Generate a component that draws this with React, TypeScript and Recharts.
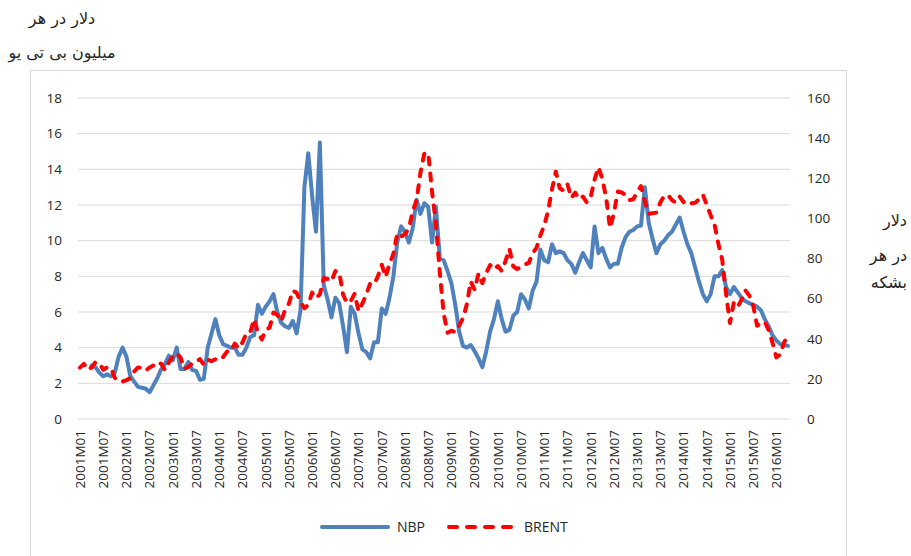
import React from 'react';
import { LineChart, Line, XAxis, YAxis, CartesianGrid } from 'recharts';

const YEARS = [2001, 2002, 2003, 2004, 2005, 2006, 2007, 2008, 2009, 2010, 2011, 2012, 2013, 2014, 2015, 2016];
const MONTHS_IN_LAST_YEAR = 4;

const MONTHS: string[] = [];
for (const y of YEARS) {
  for (let m = 1; m <= 12; m++) {
    if (y === 2016 && m > MONTHS_IN_LAST_YEAR) break;
    MONTHS.push(`${y}M${m < 10 ? '0' + m : m}`);
  }
}

// NBP, dollars per million BTU (left axis)
const NBP: (number | null)[] = [
  null, null, null, 3.0, 2.9, 2.6, 2.4, 2.5, 2.4, 2.6, 3.5, 4.0,
  3.5, 2.4, 2.1, 1.8, 1.75, 1.7, 1.5, 1.9, 2.3, 2.8, 3.1, 3.55,
  3.3, 4.0, 2.8, 2.8, 3.2, 2.75, 2.7, 2.2, 2.25, 4.0, 4.8, 5.6,
  4.7, 4.2, 4.1, 4.0, 4.0, 3.6, 3.6, 4.0, 4.6, 4.7, 6.4, 5.9,
  6.3, 6.6, 7.0, 6.0, 5.4, 5.2, 5.1, 5.5, 4.8, 6.1, 13.0, 14.9,
  12.5, 10.5, 15.5, 7.5, 6.7, 5.7, 6.8, 6.5, 5.2, 3.75, 6.3, 5.9,
  4.8, 3.9, 3.75, 3.4, 4.3, 4.3, 6.2, 5.9, 6.8, 8.0, 9.9, 10.8,
  10.5, 9.9, 10.7, 12.3, 11.5, 12.1, 11.9, 9.9, 11.9, 9.0, 8.9, 8.3,
  7.6, 6.4, 4.9, 4.1, 4.0, 4.15, 3.8, 3.4, 2.9, 3.8, 4.9, 5.6,
  6.6, 5.6, 4.9, 5.0, 5.8, 6.0, 7.0, 6.7, 6.2, 7.2, 7.7, 9.5,
  8.9, 8.8, 9.8, 9.3, 9.4, 9.3, 8.9, 8.7, 8.2, 8.8, 9.3, 8.9,
  8.5, 10.8, 9.3, 9.6, 9.0, 8.5, 8.7, 8.7, 9.6, 10.2, 10.5, 10.6,
  10.8, 10.85, 13.0, 11.0, 10.1, 9.3, 9.8, 10.0, 10.3, 10.5, 10.9, 11.3,
  10.5, 9.8, 9.3, 8.5, 7.7, 7.0, 6.6, 7.0, 8.0, 8.0, 8.35, 7.4,
  7.0, 7.4, 7.1, 6.8, 6.6, 6.5, 6.4, 6.3, 6.1, 5.6, 5.2, 4.7,
  4.4, 4.2, 4.15, 4.1,
];

// BRENT, dollars per barrel (right axis)
const BRENT: number[] = [
  25.6, 27.5, 24.5, 25.7, 28.3, 27.9, 24.6, 25.7, 25.6, 20.5, 18.8, 18.7,
  19.4, 20.3, 23.7, 25.7, 25.4, 24.1, 25.7, 26.7, 28.4, 27.5, 24.3, 28.3,
  31.2, 32.8, 30.6, 25.0, 25.9, 27.7, 28.4, 29.9, 27.1, 29.6, 28.8, 29.8,
  31.3, 30.9, 33.6, 33.6, 37.6, 35.2, 38.2, 42.7, 43.2, 49.8, 43.1, 39.6,
  44.5, 45.5, 53.1, 51.9, 48.7, 54.4, 57.5, 64.0, 62.9, 58.5, 55.2, 56.9,
  63.0, 60.2, 62.1, 70.3, 69.8, 68.6, 73.7, 73.2, 62.0, 57.8, 58.8, 62.5,
  53.7, 57.6, 62.1, 67.5, 67.2, 71.1, 76.9, 70.8, 77.2, 82.3, 92.4, 90.9,
  92.2, 95.0, 103.6, 109.1, 122.8, 132.3, 132.7, 113.2, 97.2, 73.0, 52.5, 43.0,
  44.0, 43.3, 46.5, 50.2, 57.3, 68.6, 64.4, 72.5, 67.7, 72.8, 76.7, 74.5,
  76.2, 73.8, 78.8, 84.8, 76.0, 74.8, 75.6, 77.0, 77.8, 82.7, 85.3, 91.5,
  96.5, 103.7, 114.6, 123.3, 115.0, 113.8, 117.0, 110.2, 112.8, 109.6, 110.8, 107.9,
  110.7, 119.3, 125.5, 119.8, 110.3, 95.2, 102.6, 113.4, 112.9, 111.7, 109.1, 109.5,
  113.0, 116.1, 108.5, 102.3, 102.6, 102.9, 107.9, 111.3, 111.6, 109.1, 107.8, 110.8,
  108.1, 108.9, 107.5, 107.8, 109.5, 111.8, 106.8, 101.6, 97.1, 87.4, 79.4, 62.3,
  47.8, 58.1, 55.9, 59.5, 64.1, 61.5, 56.6, 46.5, 47.6, 48.4, 44.3, 38.0,
  30.7, 32.2, 38.2, 41.6,
];

const LEFT_TICKS = [0, 2, 4, 6, 8, 10, 12, 14, 16, 18];
const RIGHT_TICKS = [0, 20, 40, 60, 80, 100, 120, 140, 160];

const SERIES_NAMES = ['NBP', 'BRENT'];
const LEFT_TITLE = ['دلار در هر', 'میلیون بی تی یو'];
const RIGHT_TITLE = ['دلار', 'در هر', 'بشکه'];

const data = MONTHS.map((m, i) => ({ month: m, nbp: NBP[i], brent: BRENT[i] }));

const BLUE = '#4F81BD';
const RED = '#FF0000';
const TEXT = '#262626';
const FONT = '"Open Sans", "Noto Sans", sans-serif';
const FA_FONT = '"DejaVu Sans", sans-serif';

const XTick = (props: any) => {
  const { x, y, payload } = props;
  return (
    <text
      x={x}
      y={y}
      transform={`rotate(-90, ${x}, ${y})`}
      textAnchor="end"
      dy="0.36em"
      fill={TEXT}
      fontSize={13.5}
      fontFamily={FONT}
    >
      {payload.value}
    </text>
  );
};

export default function App() {
  return (
    <div style={{ position: 'absolute', left: 0, top: 0, width: 911, height: 556, background: '#fff', overflow: 'hidden' }}>
      <div
        style={{
          position: 'absolute',
          left: 30,
          top: 70,
          width: 817,
          height: 520,
          border: '1px solid #D9D9D9',
          boxSizing: 'border-box',
        }}
      />
      <div style={{ position: 'absolute', left: 0, top: 0 }}>
        <LineChart width={911} height={556} data={data} margin={{ top: 98, right: 61, bottom: 37, left: 38 }}>
          <CartesianGrid yAxisId="left" vertical={false} stroke="#D9D9D9" strokeWidth={1} />
          <XAxis
            dataKey="month"
            interval={5}
            height={100}
            axisLine={false}
            tickLine={false}
            tickSize={0}
            tickMargin={11}
            padding={{ left: 2, right: 2 }}
            tick={<XTick />}
          />
          <YAxis
            yAxisId="left"
            orientation="left"
            width={40}
            domain={[0, 18]}
            ticks={LEFT_TICKS}
            axisLine={false}
            tickLine={false}
            tickSize={0}
            tickMargin={16}
            tick={{ fill: TEXT, fontSize: 13.5, fontFamily: FONT }}
          />
          <YAxis
            yAxisId="right"
            orientation="right"
            width={60}
            domain={[0, 160]}
            ticks={RIGHT_TICKS}
            axisLine={false}
            tickLine={false}
            tickSize={0}
            tickMargin={17}
            tick={{ fill: TEXT, fontSize: 13.5, fontFamily: FONT, textAnchor: 'start' }}
          />
          <Line
            yAxisId="left"
            type="linear"
            dataKey="nbp"
            name={SERIES_NAMES[0]}
            stroke={BLUE}
            strokeWidth={4}
            strokeLinejoin="round"
            strokeLinecap="round"
            dot={false}
            activeDot={false}
            isAnimationActive={false}
          />
          <Line
            yAxisId="right"
            type="linear"
            dataKey="brent"
            name={SERIES_NAMES[1]}
            stroke={RED}
            strokeWidth={4}
            strokeDasharray="7 9"
            strokeLinejoin="round"
            strokeLinecap="round"
            dot={false}
            activeDot={false}
            isAnimationActive={false}
          />
        </LineChart>
      </div>

      {/* left axis title */}
      <div style={{ position: 'absolute', left: 0, top: 6, width: 124, textAlign: 'center', direction: 'rtl', fontFamily: FA_FONT, fontSize: 16, color: TEXT, lineHeight: '26px' }}>
        {LEFT_TITLE[0]}
      </div>
      <div style={{ position: 'absolute', left: 0, top: 40, width: 124, textAlign: 'center', direction: 'rtl', fontFamily: FA_FONT, fontSize: 16, color: TEXT, lineHeight: '26px' }}>
        {LEFT_TITLE[1]}
      </div>

      {/* right axis title */}
      {RIGHT_TITLE.map((t, k) => (
        <div
          key={t}
          style={{
            position: 'absolute',
            left: 846,
            width: 61,
            top: [208, 243, 270][k],
            textAlign: 'right',
            direction: 'rtl',
            fontFamily: FA_FONT,
            fontSize: 16,
            color: TEXT,
            lineHeight: '26px',
          }}
        >
          {t}
        </div>
      ))}

      {/* legend */}
      <svg style={{ position: 'absolute', left: 0, top: 510 }} width={911} height={34}>
        <line x1={322} y1={17} x2={388} y2={17} stroke={BLUE} strokeWidth={4} strokeLinecap="round" />
        <text x={397} y={17} dy="0.36em" fontSize={14} fontFamily={FONT} fill={TEXT}>{SERIES_NAMES[0]}</text>
        <line x1={449} y1={17} x2={516} y2={17} stroke={RED} strokeWidth={4} strokeLinecap="round" strokeDasharray="8 10" />
        <text x={524} y={17} dy="0.36em" fontSize={14} fontFamily={FONT} fill={TEXT}>{SERIES_NAMES[1]}</text>
      </svg>
    </div>
  );
}
